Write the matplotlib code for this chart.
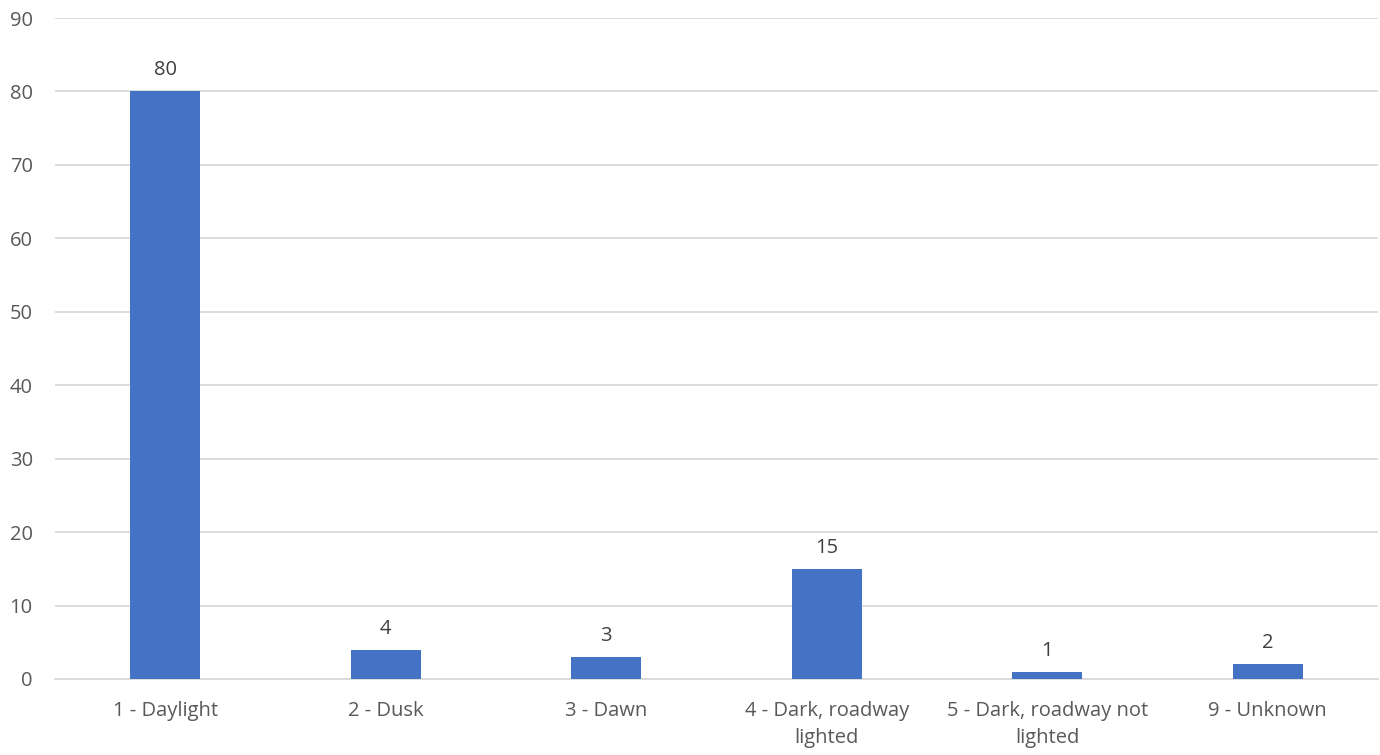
import matplotlib
matplotlib.use("Agg")
import matplotlib.pyplot as plt

categories = ["1 - Daylight", "2 - Dusk", "3 - Dawn", "4 - Dark, roadway\nlighted",
              "5 - Dark, roadway not\nlighted", "9 - Unknown"]
values = [80, 4, 3, 15, 1, 2]
yticks = [0, 10, 20, 30, 40, 50, 60, 70, 80, 90]

plt.rcParams['font.family'] = ['Open Sans', 'DejaVu Sans']

fig = plt.figure(figsize=(13.8, 7.55), dpi=100)
ax = fig.add_axes([55/1380, 1 - 679/755, 1323/1380, (679 - 18)/755])

x = list(range(len(categories)))
bars = ax.bar(x, values, width=0.317, color="#4472C4", zorder=3)
for xi, v in zip(x, values):
    ax.annotate(str(v), (xi, v), xytext=(0, 8), textcoords="offset points",
                ha="center", va="bottom", fontsize=14.5, color="#404040")

ax.set_xlim(-0.5, len(categories) - 0.5)
ax.set_ylim(0, 90)
ax.set_yticks(yticks)
ax.set_xticks(x)
ax.set_xticklabels(categories, fontsize=14.5, color="#595959", linespacing=1.45)
ax.tick_params(axis="y", labelsize=14.5, labelcolor="#595959", length=0, pad=16)
ax.tick_params(axis="x", length=0, pad=16)
ax.yaxis.grid(True, color="#D9D9D9", linewidth=1.3, zorder=0)
for s in ["top", "right", "left"]:
    ax.spines[s].set_visible(False)
ax.spines["bottom"].set_color("#D9D9D9")
ax.spines["bottom"].set_linewidth(1.3)

fig.savefig("out.png", dpi=100)
